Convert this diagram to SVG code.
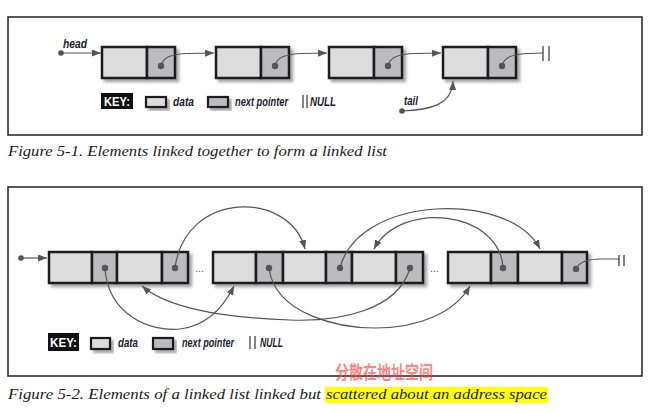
<svg xmlns="http://www.w3.org/2000/svg" width="660" height="412" viewBox="0 0 660 412">
<defs>
<style>
.frame{fill:none;stroke:#222;stroke-width:1.5}
.d{fill:#dcdcdd;stroke:#1a1a1a;stroke-width:2.5}
.p{fill:#bcbcbf;stroke:#1a1a1a;stroke-width:2.5}
.kd{fill:#dcdcdd;stroke:#1a1a1a;stroke-width:2.2}
.kp{fill:#bcbcbf;stroke:#1a1a1a;stroke-width:2.2}
.c{fill:none;stroke:#555;stroke-width:1.2;marker-end:url(#ah)}
.n{fill:none;stroke:#555;stroke-width:1.2}
.bar{stroke:#333;stroke-width:1.2}
.dot{fill:#555}
.lbl{font-family:"Liberation Sans",Arial,sans-serif;font-style:italic;font-weight:bold;font-size:12px;fill:#1c1c30}
.key{font-family:"Liberation Sans",Arial,sans-serif;font-weight:bold;font-size:13px;fill:#fff}
.cap{font-family:"Liberation Serif","Times New Roman",serif;font-style:italic;font-size:15.5px;fill:#1a1a1a}
.ell{font-family:"Liberation Sans",Arial,sans-serif;font-size:11px;fill:#556}
</style>
<marker id="ah" markerUnits="userSpaceOnUse" markerWidth="9" markerHeight="7" refX="9" refY="3.5" orient="auto">
<path d="M0,0 L9,3.5 L0,7 z" fill="#555"/>
</marker>
<filter id="sh" x="-10%" y="-20%" width="130%" height="160%">
<feGaussianBlur in="SourceAlpha" stdDeviation="1.6"/>
<feOffset dx="3" dy="3"/>
<feComponentTransfer><feFuncA type="linear" slope="0.35"/></feComponentTransfer>
<feMerge><feMergeNode/><feMergeNode in="SourceGraphic"/></feMerge>
</filter>
</defs>
<rect width="660" height="412" fill="#fff"/>

<!-- Figure 5-1 -->
<rect class="frame" x="8" y="17" width="634" height="118"/>
<g id="f1-node1" filter="url(#sh)"><rect class="d" x="102" y="47" width="45" height="31"/><rect class="p" x="147" y="47" width="28" height="31"/></g>
<g id="f1-node2" filter="url(#sh)"><rect class="d" x="216" y="47" width="45" height="31"/><rect class="p" x="261" y="47" width="28" height="31"/></g>
<g id="f1-node3" filter="url(#sh)"><rect class="d" x="329" y="47" width="45" height="31"/><rect class="p" x="374" y="47" width="28" height="31"/></g>
<g id="f1-node4" filter="url(#sh)"><rect class="d" x="443" y="47" width="45" height="31"/><rect class="p" x="488" y="47" width="28" height="31"/></g>

<g id="f1-connectors">
<path class="c" d="M61,53 L101,53"/>
<path class="c" d="M161,66 C163,57 172,54 188,53.5 L214,53"/>
<path class="c" d="M275,66 C277,57 286,54 302,53.5 L327,53"/>
<path class="c" d="M388,66 C390,57 399,54 415,53.5 L441,53"/>
<path class="n" d="M502,66 C504,57 513,54 529,53.5 L543,53"/>
<line class="bar" x1="543" y1="46" x2="543" y2="61"/>
<line class="bar" x1="549" y1="46" x2="549" y2="61"/>
<path class="c" d="M402,111 C430,110 452,105 453,81"/>
<circle class="dot" cx="61" cy="53" r="2.8"/>
<circle class="dot" cx="161" cy="66" r="3.2"/>
<circle class="dot" cx="275" cy="66" r="3.2"/>
<circle class="dot" cx="388" cy="66" r="3.2"/>
<circle class="dot" cx="502" cy="66" r="3.2"/>
<circle class="dot" cx="402" cy="111" r="2.8"/>
</g>
<text class="lbl" x="63" y="48" textLength="24" lengthAdjust="spacingAndGlyphs">head</text>
<text class="lbl" x="404" y="105" textLength="14" lengthAdjust="spacingAndGlyphs">tail</text>

<g id="f1-key">
<rect x="101" y="93" width="32" height="16" fill="#111"/>
<text class="key" x="104" y="106" textLength="26" lengthAdjust="spacingAndGlyphs">KEY:</text>
<rect class="kd" x="146" y="97" width="20" height="10" filter="url(#sh)"/>
<text class="lbl" x="173" y="106" textLength="21" lengthAdjust="spacingAndGlyphs">data</text>
<rect class="kp" x="208" y="97" width="20" height="10" filter="url(#sh)"/>
<text class="lbl" x="235" y="106" textLength="53" lengthAdjust="spacingAndGlyphs">next pointer</text>
<line class="bar" x1="303" y1="95" x2="303" y2="108"/>
<line class="bar" x1="307" y1="95" x2="307" y2="108"/>
<text class="lbl" x="310" y="106" textLength="26" lengthAdjust="spacingAndGlyphs">NULL</text>
</g>
<text class="cap" x="8" y="156" textLength="379" lengthAdjust="spacingAndGlyphs">Figure 5-1. Elements linked together to form a linked list</text>

<!-- Figure 5-2 -->
<rect class="frame" x="8" y="187" width="634" height="189"/>
<g id="f2-block1" filter="url(#sh)">
<rect class="d" x="49" y="252" width="43" height="31"/><rect class="p" x="92" y="252" width="25" height="31"/>
<rect class="d" x="117" y="252" width="45" height="31"/><rect class="p" x="162" y="252" width="26" height="31"/>
</g>
<g id="f2-block2" filter="url(#sh)">
<rect class="d" x="213" y="252" width="43" height="31"/><rect class="p" x="256" y="252" width="27" height="31"/>
<rect class="d" x="283" y="252" width="43" height="31"/><rect class="p" x="326" y="252" width="26" height="31"/>
<rect class="d" x="352" y="252" width="44" height="31"/><rect class="p" x="396" y="252" width="27" height="31"/>
</g>
<g id="f2-block3" filter="url(#sh)">
<rect class="d" x="448" y="252" width="43" height="31"/><rect class="p" x="491" y="252" width="27" height="31"/>
<rect class="d" x="518" y="252" width="44" height="31"/><rect class="p" x="562" y="252" width="25" height="31"/>
</g>
<text class="ell" x="195" y="272">...</text>
<text class="ell" x="430" y="272">...</text>

<g id="f2-connectors">
<path class="c" d="M21,258 L47,258"/>
<path class="c" d="M105,268 C108,315 150,332 180,329 C205,326 222,310 234,286"/>
<path class="c" d="M410,268 C398,310 340,322 290,320 C230,318 170,310 142,286"/>
<path class="c" d="M269,268 C275,315 340,328 375,328 C420,328 455,312 470,286"/>
<path class="c" d="M175,268 C185,190 290,190 305,249"/>
<path class="c" d="M340,268 C358,195 510,190 540,249"/>
<path class="c" d="M503,268 C500,210 400,200 374,249"/>
<path class="n" d="M576,269 C579,262 589,259 601,259 L619,259"/>
<line class="bar" x1="619" y1="255" x2="619" y2="266"/>
<line class="bar" x1="624" y1="255" x2="624" y2="266"/>
<circle class="dot" cx="21" cy="258" r="2.8"/>
<circle class="dot" cx="105" cy="268" r="3.2"/>
<circle class="dot" cx="175" cy="268" r="3.2"/>
<circle class="dot" cx="269" cy="268" r="3.2"/>
<circle class="dot" cx="340" cy="268" r="3.2"/>
<circle class="dot" cx="410" cy="268" r="3.2"/>
<circle class="dot" cx="503" cy="268" r="3.2"/>
<circle class="dot" cx="576" cy="269" r="3.2"/>
</g>

<g id="f2-key">
<rect x="48" y="333" width="31" height="18" fill="#111"/>
<text class="key" x="50" y="347" textLength="27" lengthAdjust="spacingAndGlyphs">KEY:</text>
<rect class="kd" x="91" y="338" width="19" height="11" filter="url(#sh)"/>
<text class="lbl" x="118" y="347" textLength="20" lengthAdjust="spacingAndGlyphs">data</text>
<rect class="kp" x="153" y="338" width="20" height="11" filter="url(#sh)"/>
<text class="lbl" x="182" y="347" textLength="52" lengthAdjust="spacingAndGlyphs">next pointer</text>
<line class="bar" x1="250" y1="336" x2="250" y2="349"/>
<line class="bar" x1="255" y1="336" x2="255" y2="349"/>
<text class="lbl" x="260" y="347" textLength="23" lengthAdjust="spacingAndGlyphs">NULL</text>
</g>
<text x="335" y="379" font-family="'Noto Sans CJK SC',sans-serif" font-size="18" font-weight="bold" fill="#ff3b3b" fill-opacity="0.65" textLength="98" lengthAdjust="spacingAndGlyphs">分散在地址空间</text>
<rect x="325" y="387" width="223" height="16" fill="#ffff00"/>
<text class="cap" x="8" y="399" textLength="313" lengthAdjust="spacingAndGlyphs">Figure 5-2. Elements of a linked list linked but</text>
<text class="cap" x="326" y="399" textLength="221" lengthAdjust="spacingAndGlyphs">scattered about an address space</text>
</svg>
